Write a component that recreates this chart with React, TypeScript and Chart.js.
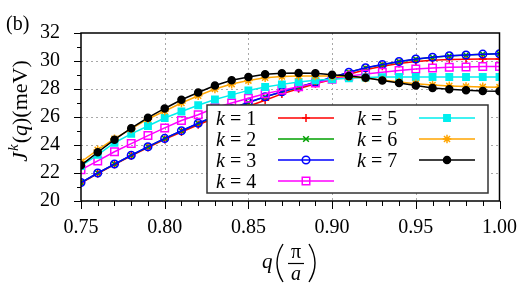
import { useEffect, useRef } from "react";
import { Chart, registerables } from "chart.js";
Chart.register(...registerables);

const qValues = [0.75, 0.76, 0.77, 0.78, 0.79, 0.8, 0.81, 0.82, 0.83, 0.84, 0.85, 0.86, 0.87, 0.88, 0.89, 0.9, 0.91, 0.92, 0.93, 0.94, 0.95, 0.96, 0.97, 0.98, 0.99, 1.0];
const jK1 = [21.28, 21.95, 22.6, 23.22, 23.82, 24.4, 24.93, 25.45, 25.93, 26.35, 26.77, 27.2, 27.65, 28.02, 28.37, 28.68, 29.05, 29.38, 29.62, 29.82, 29.96, 30.05, 30.1, 30.13, 30.14, 30.14];
const jK2 = [21.31, 21.99, 22.63, 23.26, 23.87, 24.46, 25.01, 25.54, 26.05, 26.58, 27.03, 27.44, 27.79, 28.13, 28.47, 28.81, 29.19, 29.51, 29.74, 29.95, 30.13, 30.26, 30.36, 30.42, 30.48, 30.51];
const jK3 = [21.32, 22.0, 22.64, 23.27, 23.88, 24.47, 25.02, 25.55, 26.06, 26.6, 27.05, 27.45, 27.8, 28.14, 28.48, 28.82, 29.2, 29.52, 29.75, 29.96, 30.14, 30.27, 30.37, 30.43, 30.49, 30.52];
const jK4 = [22.23, 22.86, 23.52, 24.1, 24.67, 25.22, 25.75, 26.16, 26.66, 27.0, 27.34, 27.66, 27.92, 28.16, 28.42, 28.7, 28.92, 29.07, 29.2, 29.32, 29.43, 29.5, 29.55, 29.57, 29.6, 29.61];
const jK5 = [22.5, 23.3, 24.16, 24.79, 25.36, 25.93, 26.39, 26.84, 27.25, 27.58, 27.9, 28.14, 28.33, 28.5, 28.62, 28.7, 28.77, 28.82, 28.85, 28.86, 28.86, 28.86, 28.86, 28.86, 28.86, 28.86];
const jK6 = [22.8, 23.65, 24.45, 25.15, 25.86, 26.43, 27.0, 27.52, 28.0, 28.35, 28.6, 28.8, 28.9, 28.93, 28.93, 28.92, 28.88, 28.78, 28.64, 28.5, 28.38, 28.28, 28.22, 28.18, 28.15, 28.13];
const jK7 = [22.55, 23.48, 24.38, 25.2, 25.95, 26.61, 27.23, 27.75, 28.25, 28.62, 28.86, 29.05, 29.12, 29.14, 29.12, 29.02, 28.92, 28.8, 28.6, 28.43, 28.25, 28.07, 27.98, 27.91, 27.85, 27.84];

const kValues = [1, 2, 3, 4, 5, 6, 7];
const seriesValues = [jK1, jK2, jK3, jK4, jK5, jK6, jK7];

const xTicks = [0.75, 0.8, 0.85, 0.9, 0.95, 1.0];
const yTicks = [20, 22, 24, 26, 28, 30, 32];

const colors = ["#ff0000", "#00a000", "#0000ff", "#ff00ff", "#00eeee", "#ffa500", "#000000"];
const pStyles = ["cross", "crossRot", "circle", "rect", "rect", "star", "circle"];
const pRadius = [4, 4, 3.8, 5.3, 4.5, 4.3, 3.5];
const pFilled = [false, false, false, false, true, false, true];

const FONT = "'Liberation Serif', 'Times New Roman', serif";

function drawMarker(ctx: CanvasRenderingContext2D, style: string, x: number, y: number, r: number, color: string, filled: boolean) {
  ctx.save();
  ctx.strokeStyle = color;
  ctx.fillStyle = color;
  ctx.lineWidth = 1.5;
  ctx.beginPath();
  if (style === "circle") {
    ctx.arc(x, y, r, 0, Math.PI * 2);
    if (filled) ctx.fill();
    ctx.stroke();
  } else if (style === "rect") {
    const s = Math.SQRT1_2 * r;
    ctx.rect(x - s, y - s, 2 * s, 2 * s);
    if (filled) ctx.fill();
    ctx.stroke();
  } else if (style === "cross") {
    ctx.moveTo(x - r, y); ctx.lineTo(x + r, y);
    ctx.moveTo(x, y - r); ctx.lineTo(x, y + r);
    ctx.stroke();
  } else if (style === "crossRot") {
    const s = Math.SQRT1_2 * r;
    ctx.moveTo(x - s, y - s); ctx.lineTo(x + s, y + s);
    ctx.moveTo(x - s, y + s); ctx.lineTo(x + s, y - s);
    ctx.stroke();
  } else if (style === "star") {
    const s = Math.SQRT1_2 * r;
    ctx.moveTo(x - r, y); ctx.lineTo(x + r, y);
    ctx.moveTo(x, y - r); ctx.lineTo(x, y + r);
    ctx.moveTo(x - s, y - s); ctx.lineTo(x + s, y + s);
    ctx.moveTo(x - s, y + s); ctx.lineTo(x + s, y - s);
    ctx.stroke();
  }
  ctx.restore();
}

const decorPlugin = {
  id: "decor",
  beforeDatasetsDraw(chart: any) {
    const { ctx, chartArea: a, scales } = chart;
    const xs = scales.x, ys = scales.y;
    ctx.save();
    ctx.strokeStyle = "#a8a8a8";
    ctx.lineWidth = 1;
    ctx.setLineDash([2, 3]);
    for (const v of xTicks.slice(1, -1)) {
      const px = Math.round(xs.getPixelForValue(v)) + 0.5;
      ctx.beginPath(); ctx.moveTo(px, a.top); ctx.lineTo(px, a.bottom); ctx.stroke();
    }
    for (const v of yTicks.slice(1, -1)) {
      const py = Math.round(ys.getPixelForValue(v)) + 0.5;
      ctx.beginPath(); ctx.moveTo(a.left, py); ctx.lineTo(a.right, py); ctx.stroke();
    }
    ctx.restore();
  },
  afterDatasetsDraw(chart: any) {
    const { ctx, chartArea: a, scales } = chart;
    const xs = scales.x, ys = scales.y;
    ctx.save();
    // frame
    ctx.strokeStyle = "#000";
    ctx.lineWidth = 1.5;
    ctx.strokeRect(a.left, a.top, a.right - a.left, a.bottom - a.top);
    // x ticks (minor every 0.01, major every 0.05)
    ctx.lineWidth = 1;
    for (let i = 0; i <= 25; i++) {
      const v = xs.min + i * 0.01;
      const px = Math.round(xs.getPixelForValue(v)) + 0.5;
      const len = i % 5 === 0 ? 8 : 5;
      ctx.beginPath(); ctx.moveTo(px, a.bottom); ctx.lineTo(px, a.bottom + len); ctx.stroke();
    }
    for (let v = ys.min; v <= ys.max; v += 1) {
      const py = Math.round(ys.getPixelForValue(v)) + 0.5;
      const len = v % 2 === 0 ? 7 : 4;
      ctx.beginPath(); ctx.moveTo(a.left, py); ctx.lineTo(a.left - len, py); ctx.stroke();
    }

    // legend
    const bx = 207, by = 105, bw = 281, bh = 88;
    ctx.fillStyle = "#fff";
    ctx.fillRect(bx, by, bw, bh);
    ctx.strokeStyle = "#333";
    ctx.lineWidth = 1.5;
    ctx.strokeRect(bx, by, bw, bh);
    ctx.textBaseline = "alphabetic";
    ctx.textAlign = "left";
    kValues.forEach((k, i) => {
      const col = i < 4 ? 0 : 1;
      const row = i < 4 ? i : i - 4;
      const ty = 125 + row * 21;
      const my = 118 + row * 21;
      const tx = col === 0 ? 216 : 357;
      const l0 = col === 0 ? 278 : 419;
      const l1 = col === 0 ? 334 : 475;
      ctx.fillStyle = "#000";
      ctx.font = `italic 20px ${FONT}`;
      ctx.fillText("k", tx, ty);
      const kw = ctx.measureText("k").width;
      ctx.font = `20px ${FONT}`;
      ctx.fillText(" = " + k, tx + kw, ty);
      ctx.strokeStyle = colors[i];
      ctx.lineWidth = 1.5;
      ctx.beginPath(); ctx.moveTo(l0, my); ctx.lineTo(l1, my); ctx.stroke();
      drawMarker(ctx, pStyles[i], (l0 + l1) / 2, my, pRadius[i], colors[i], pFilled[i]);
    });

    // (b)
    ctx.fillStyle = "#000";
    ctx.font = `20px ${FONT}`;
    ctx.fillText("(b)", 6, 30);

    // x title: q (pi / a)
    ctx.font = `italic 21px ${FONT}`;
    ctx.fillText("q", 262, 268);
    ctx.lineWidth = 1.4;
    ctx.strokeStyle = "#000";
    ctx.beginPath(); ctx.moveTo(283, 244); ctx.quadraticCurveTo(271, 263, 283, 282); ctx.stroke();
    ctx.beginPath(); ctx.moveTo(309, 244); ctx.quadraticCurveTo(321, 263, 309, 282); ctx.stroke();
    ctx.textAlign = "center";
    ctx.font = `20px ${FONT}`;
    ctx.fillText("π", 296, 258);
    ctx.lineWidth = 1.2;
    ctx.beginPath(); ctx.moveTo(288, 263.5); ctx.lineTo(304, 263.5); ctx.stroke();
    ctx.font = `italic 20px ${FONT}`;
    ctx.fillText("a", 296, 280);

    // y title: J^k(q)(meV)
    ctx.translate(27, 111);
    ctx.rotate(-Math.PI / 2);
    ctx.textAlign = "left";
    const parts: [string, string, number][] = [
      ["J", `italic 22px ${FONT}`, 0],
      ["k", `italic 15px ${FONT}`, -9],
      ["(", `22px ${FONT}`, 0],
      ["q", `italic 22px ${FONT}`, 0],
      [")(meV)", `22px ${FONT}`, 0],
    ];
    let total = 0;
    const widths = parts.map(([t, f]) => { ctx.font = f; const w = ctx.measureText(t).width; total += w; return w; });
    total += 2;
    let cx = -total / 2;
    parts.forEach(([t, f, dy], i) => {
      ctx.font = f;
      ctx.fillText(t, cx, dy);
      cx += widths[i] + (i === 0 || i === 1 ? 1 : 0);
    });
    ctx.restore();
  },
};

export default function App() {
  const ref = useRef<HTMLCanvasElement>(null);
  useEffect(() => {
    document.body.style.margin = "0";
    const canvas = ref.current!;
    const datasets = seriesValues.map((vals, i) => ({
      label: "k = " + kValues[i],
      data: qValues.map((q, j) => ({ x: q, y: vals[j] })),
      borderColor: colors[i],
      backgroundColor: colors[i],
      borderWidth: 1.5,
      pointStyle: pStyles[i],
      pointRadius: pRadius[i],
      pointHoverRadius: pRadius[i],
      pointBorderWidth: 1.5,
      pointBorderColor: colors[i],
      pointBackgroundColor: pFilled[i] ? colors[i] : "rgba(0,0,0,0)",
      tension: 0,
      fill: false,
      order: 7 - i,
    }));
    const chart = new Chart(canvas, {
      type: "line",
      data: { datasets },
      options: {
        animation: false,
        responsive: false,
        maintainAspectRatio: false,
        layout: { padding: { left: 0, right: 32, top: 25, bottom: 0 } },
        plugins: { legend: { display: false }, tooltip: { enabled: false } },
        scales: {
          x: {
            type: "linear",
            min: 0.75,
            max: 1.0,
            grid: { display: false, drawTicks: false },
            border: { display: false },
            afterBuildTicks: (s: any) => { s.ticks = xTicks.map((v) => ({ value: v })); },
            afterFit: (s: any) => { s.height = 95; },
            ticks: {
              padding: 15,
              color: "#000",
              font: { family: FONT, size: 20 },
              maxRotation: 0,
              autoSkip: false,
              callback: (v: any) => Number(v).toFixed(2),
            },
          },
          y: {
            type: "linear",
            min: 20,
            max: 32,
            grid: { display: false, drawTicks: false },
            border: { display: false },
            afterBuildTicks: (s: any) => { s.ticks = yTicks.map((v) => ({ value: v })); },
            afterFit: (s: any) => { s.width = 81; },
            ticks: {
              padding: 21,
              color: "#000",
              font: { family: FONT, size: 20 },
              autoSkip: false,
              callback: (v: any) => String(v),
            },
          },
        },
      },
      plugins: [decorPlugin],
    });
    return () => chart.destroy();
  }, []);
  return (
    <div style={{ position: "fixed", left: 0, top: 0, width: 532, height: 296, background: "#fff" }}>
      <canvas ref={ref} width={532} height={296} style={{ width: 532, height: 296, display: "block" }} />
    </div>
  );
}
